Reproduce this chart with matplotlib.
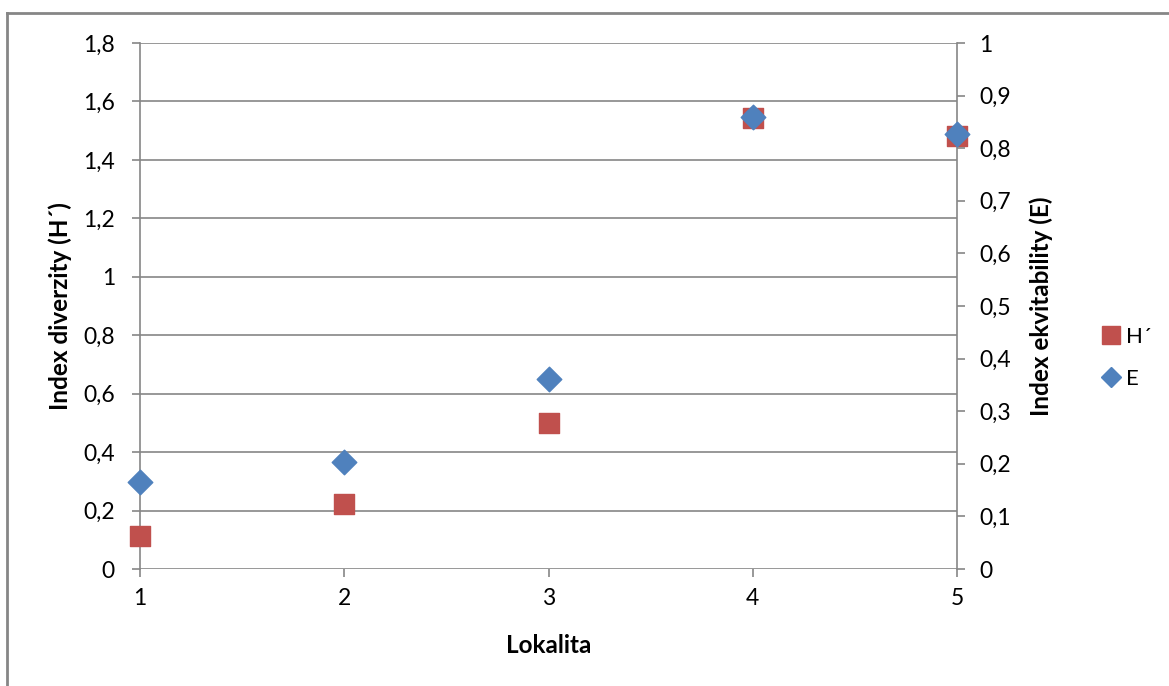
import numpy as np
import matplotlib.pyplot as plt
from matplotlib.lines import Line2D
from matplotlib.ticker import FuncFormatter

plt.rcParams['font.family'] = ['Lato', 'DejaVu Sans']

# data
lokalita = [1, 2, 3, 4, 5]
h_index = [0.112, 0.222, 0.499, 1.545, 1.482]
e_index = [0.165, 0.204, 0.361, 0.859, 0.827]

red = '#C0504D'
blue = '#4F81BD'
grey = '#868686'

fig = plt.figure(figsize=(11.69, 6.86), dpi=100)
ax = fig.add_axes([140/1169, 1-569/686, (957-140)/1169, (569-43)/686])
ax2 = ax.twinx()

# outer chart frame (partly cropped in the original)
fig.add_artist(Line2D([7/1169, 1], [1-13/686, 1-13/686], color=grey, lw=2))
fig.add_artist(Line2D([7/1169, 7/1169], [0, 1-13/686], color=grey, lw=2))

ax.scatter(lokalita, h_index, marker='s', s=15**2, color=red, zorder=3,
           clip_on=False, label='H´')
ax2.scatter(lokalita, e_index, marker='D', s=12.5**2, color=blue, zorder=4,
            clip_on=False, label='E')

comma = FuncFormatter(lambda v, p: ('%g' % round(v, 2)).replace('.', ','))

ax.set_xlim(1, 5)
ax.set_ylim(0, 1.8)
ax.set_xticks(lokalita)
ax.set_yticks(np.arange(0, 1.81, 0.2))
ax.yaxis.set_major_formatter(comma)
ax2.set_ylim(0, 1)
ax2.set_yticks(np.arange(0, 1.01, 0.1))
ax2.yaxis.set_major_formatter(comma)

ax.grid(axis='y', color=grey, lw=1.2)
ax.set_axisbelow(True)
for a in (ax, ax2):
    for s in ('top', 'bottom'):
        a.spines[s].set_visible(False)
    a.spines['left'].set_color(grey)
    a.spines['right'].set_color(grey)
    a.spines['left'].set_linewidth(1.2)
    a.spines['right'].set_linewidth(1.2)
    a.tick_params(colors=grey, labelcolor='black', labelsize=16.5, length=6,
                  width=1.2)
ax.spines['right'].set_visible(False)
ax2.spines['left'].set_visible(False)
ax.tick_params(axis='x', pad=8)
ax.tick_params(axis='y', pad=12)
ax2.tick_params(axis='y', pad=10)

ax.set_xlabel('Lokalita', fontsize=17.5, fontweight='bold', labelpad=18)
ax.set_ylabel('Index diverzity (H´)', fontsize=17.5, fontweight='bold', labelpad=8)
ax2.set_ylabel('Index ekvitability (E)', fontsize=17.5, fontweight='bold', labelpad=13)

handles = [Line2D([], [], marker='s', ls='', color=red, ms=13, label='H´'),
           Line2D([], [], marker='D', ls='', color=blue, ms=10, label='E')]
fig.legend(handles=handles, loc='center left', bbox_to_anchor=(1078/1169, 1-358/686),
           frameon=False, fontsize=16, handletextpad=0.05, labelspacing=1.0,
           handlelength=1.2)

fig.savefig('out.png', dpi=100)
